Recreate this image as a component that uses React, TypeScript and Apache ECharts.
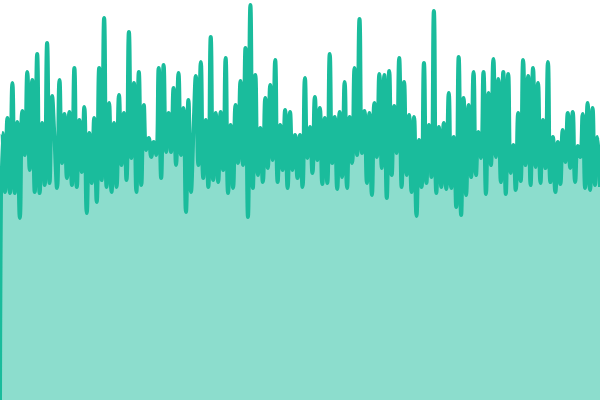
import React, { useEffect, useRef } from 'react';
import * as echarts from 'echarts';

// heights, left to right
const values: number[] = [
  0, 267, 208, 282, 207, 317, 207, 278, 182, 289, 245, 328, 230, 320, 208, 346, 207, 277, 215, 357,
  217, 304, 260, 212, 320, 237, 286, 222, 288, 215, 332, 213, 280, 228, 293, 187, 267, 217, 282, 198,
  332, 220, 382, 213, 297, 208, 277, 213, 305, 235, 287, 220, 368, 242, 317, 208, 328, 215, 295, 250, 262,
  243, 258, 245, 332, 222, 335, 248, 287, 248, 312, 235, 327, 245, 292, 188, 300, 208, 267, 324, 235,
  338, 222, 280, 213, 363, 220, 287, 218, 288, 230, 342, 207, 275, 212, 295, 237, 319, 235, 352, 183,
  395, 212, 325, 225, 272, 218, 302, 232, 315, 240, 340, 218, 275, 230, 290, 212, 288, 230, 265, 222,
  265, 213, 322, 242, 273, 227, 303, 240, 292, 216, 282, 217, 346, 237, 283, 211, 288, 223, 318, 212, 283,
  237, 332, 245, 381, 247, 289, 217, 287, 205, 297, 243, 326, 232, 325, 202, 329, 225, 294, 247, 342,
  213, 318, 225, 285, 208, 283, 184, 260, 213, 337, 217, 275, 223, 389, 207, 273, 213, 277, 211, 307,
  212, 263, 193, 343, 185, 302, 205, 295, 223, 328, 225, 268, 242, 328, 206, 307, 235, 341, 243, 321,
  218, 328, 206, 326, 227, 255, 210, 287, 219, 340, 235, 324, 215, 332, 233, 317, 217, 280, 232, 338,
  218, 263, 208, 258, 216, 270, 238, 287, 232, 288, 218, 254, 243, 286, 212, 297, 210, 292, 215, 263, 213,
];

const categories: string[] = values.map((_, i) => String(i));

const App: React.FC = () => {
  const chartRef = useRef<HTMLDivElement>(null);

  useEffect(() => {
    const chart = echarts.init(chartRef.current!, undefined, { renderer: 'svg' });

    chart.setOption({
      animation: false,
      grid: { left: 0, right: 0, top: 0, bottom: 0 },
      xAxis: {
        type: 'category',
        data: categories,
        boundaryGap: false,
        show: false
      },
      yAxis: {
        type: 'value',
        min: 0,
        max: 400,
        show: false
      },
      series: [{
        type: 'line',
        data: values,
        smooth: true,
        showSymbol: false,
        lineStyle: { color: '#1abc9c', width: 4 },
        itemStyle: { color: '#1abc9c' },
        areaStyle: { color: '#1abc9c', opacity: 0.5 }
      }]
    });

    return () => {
      chart.dispose();
    };
  }, []);

  return (
    <div
      ref={chartRef}
      style={{ position: 'fixed', left: 0, top: 0, width: '600px', height: '400px' }}
    />
  );
};

export default App;
